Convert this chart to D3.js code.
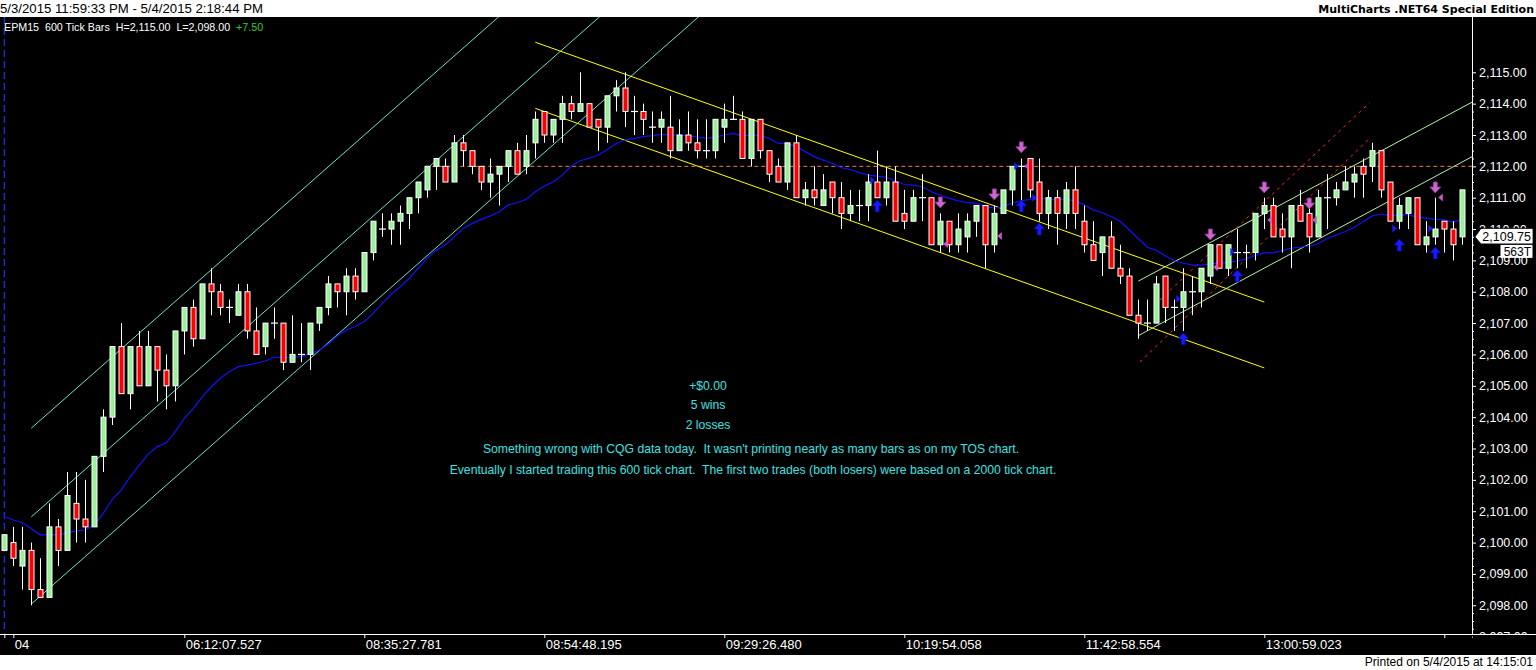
<!DOCTYPE html>
<html><head><meta charset="utf-8">
<script src="https://cdn.jsdelivr.net/npm/d3@7"></script>
<style>body{margin:0;background:#fff;overflow:hidden} svg{display:block} text{white-space:pre}</style>
</head><body><svg id="c" width="1536" height="670"></svg>
<script>
const opens=[2099.75,2100,2099.25,2099.75,2098.5,2098.25,2100.5,2099.75,2101.25,2100.75,2100.5,2102.75,2104,2106.25,2104.75,2106.25,2105,2106.25,2105.5,2105,2106.75,2107.5,2106.5,2108.25,2108,2107.5,2107.25,2108,2106.75,2106.25,2107,2107,2105.75,2106,2106,2107,2107.5,2108.25,2108,2108.5,2108,2109.25,2110,2110,2110.25,2110.5,2111,2111.25,2112,2112,2111.5,2112.75,2112.5,2112,2111.5,2111.75,2112,2112.5,2112,2112.75,2113.75,2113,2113.5,2114,2113.75,2114,2113.5,2113.25,2114.25,2114.5,2113.75,2113.75,2113.25,2113.25,2113.25,2112.5,2113,2112.75,2112.5,2112.5,2113.25,2113.5,2113.5,2112.25,2113.5,2112.5,2112,2111.5,2112.75,2111,2111.25,2110.75,2111.5,2111,2110.5,2110.75,2110.75,2111.5,2111,2111.5,2110.5,2110.25,2111,2111,2109.5,2110.25,2109.5,2109.75,2110.25,2110.75,2109.5,2110.5,2111.25,2112,2112.25,2111.5,2110.5,2111,2110.5,2111.25,2110.25,2109.5,2109.25,2109.75,2108.75,2108.5,2107.25,2107,2107,2108.5,2107.5,2107.5,2108,2108,2108.5,2109.5,2108.75,2109.25,2109.25,2109.25,2110.5,2110.75,2110,2109.75,2110.75,2110.5,2109.75,2111,2111,2111.25,2111.5,2112,2112,2112.5,2111.5,2110.25,2110.5,2111,2109.5,2109.75,2110.25,2110,2109.75];
const highs=[2100.25,2100.5,2100.5,2100,2099.5,2101.25,2100.75,2102.25,2102.25,2102,2102.75,2104.25,2106.25,2107,2106.25,2106.75,2106.75,2106.25,2106,2106.75,2107.5,2107.75,2108.25,2108.75,2108.25,2107.75,2108.25,2108.25,2107.5,2107,2107.5,2107,2107.25,2107,2107,2107.5,2108.5,2108.25,2108.75,2108.75,2109.25,2110.25,2110.5,2110.5,2110.75,2111,2111.5,2112,2112.25,2112.25,2113,2113,2112.5,2112,2112.25,2112,2112.5,2112.75,2113,2113.75,2113.75,2113.5,2114.25,2114.25,2115,2114,2113.5,2114.25,2114.75,2115,2114.25,2114,2113.75,2113.75,2114.25,2113.5,2113.75,2113.5,2113.5,2113.5,2114,2114.25,2113.75,2113.5,2113.5,2112.5,2112.25,2112.75,2113,2111.5,2112,2111.75,2111.5,2111.5,2111.25,2111.25,2111.75,2112.5,2112,2112,2111.25,2111.25,2111.75,2111,2110.5,2110.25,2110.5,2110.5,2110.75,2110.75,2110.75,2111.25,2112,2112.25,2112.25,2112.25,2111.25,2111.25,2111.5,2112,2110.75,2110.25,2109.75,2110.25,2109.5,2108.75,2107.75,2107.75,2108.5,2108.5,2107.75,2108.75,2108.5,2108.75,2109.5,2109.5,2109.5,2110,2109.5,2110.5,2111,2111,2110.5,2110.75,2111.25,2110.75,2111.25,2111.75,2111.5,2112,2112,2112.25,2112.75,2112.5,2111.5,2111,2111,2111,2110.25,2111,2110.25,2110.25,2111.25];
const lows=[2099.75,2099.25,2098.5,2098,2098.25,2098.25,2099.25,2099.75,2100,2100,2100.5,2102.25,2103.75,2104.75,2104.25,2105,2105,2104.5,2104.25,2104.5,2106,2106.25,2106.5,2107.25,2107.25,2107,2107.25,2106.5,2106,2106,2106.5,2105.5,2105.75,2105.75,2105.5,2106.75,2107.25,2107.5,2107.25,2107.75,2108,2109,2109.75,2109.5,2109.5,2110,2110.5,2111,2111.25,2111.5,2111.5,2112,2111.75,2111.25,2111,2110.75,2111.5,2111.75,2111.75,2112.25,2112.75,2112.75,2112.75,2113.5,2113.75,2113.25,2112.5,2112.75,2113.75,2113.25,2113,2113,2112.75,2112.75,2112.25,2112.5,2112.5,2112.25,2112.25,2112.25,2112.75,2113.5,2112.25,2112,2112.25,2111.5,2111.5,2111.25,2111,2110.75,2110.75,2110.75,2110.5,2110,2110.25,2110.25,2110.25,2111,2110.75,2110.25,2110,2110.25,2110.25,2109.5,2109.25,2109.25,2109.25,2109.25,2109.75,2108.75,2109.25,2110.5,2110.75,2110.75,2111,2110.25,2110,2109.5,2110,2110,2109.25,2109,2108.5,2108.75,2108.25,2107.25,2106.5,2106.75,2107,2107,2106.75,2106.75,2107.25,2107.5,2108.25,2108.75,2108.5,2108.75,2108.75,2109,2110,2109.75,2109.25,2108.75,2110.25,2109.25,2109.75,2110,2110.75,2111.25,2111,2111,2111.5,2111,2110.25,2110,2110,2109.5,2109.25,2109.5,2109.25,2109,2109.5];
const closes=[2100.25,2099.5,2099.75,2098.5,2098.25,2100.5,2099.75,2101.5,2100.75,2100.5,2102.75,2104,2106.25,2104.75,2106.25,2105,2106.25,2105.5,2105,2106.75,2107.5,2106.5,2108.25,2108,2107.5,2107.5,2108,2106.75,2106,2107,2107,2105.75,2106,2106,2107,2107.5,2108.25,2108,2108.5,2108,2109.25,2110.25,2110,2110.25,2110.5,2111,2111.5,2112,2112.25,2111.5,2112.75,2112.5,2112,2111.5,2111.75,2112,2112.5,2111.75,2112.5,2113.5,2113,2113.5,2114,2113.75,2114,2113.25,2113.25,2114.25,2114.5,2113.75,2113.75,2113.5,2113.25,2113.5,2112.5,2113,2112.75,2112.5,2112.5,2113.5,2113.5,2113.5,2112.25,2113.5,2112.5,2111.75,2111.5,2112.75,2111,2111.25,2111,2111.25,2111,2110.5,2110.75,2110.75,2111.5,2111,2111.5,2110.25,2110.25,2111,2111,2109.5,2110.25,2109.5,2110,2110.25,2110.75,2109.5,2110.5,2111.25,2112,2112,2111.25,2110.5,2111,2110.5,2111.25,2110.5,2109.5,2109,2109.75,2108.75,2108.5,2107.25,2107,2107,2108.25,2107.5,2107.5,2108,2108,2108.75,2109.5,2108.75,2109.5,2109.25,2109.25,2110.5,2110.75,2109.75,2109.75,2110.75,2110.25,2109.75,2111,2111,2111.25,2111.5,2111.75,2111.75,2112.5,2111.25,2110.25,2110.75,2111,2109.5,2109.75,2110,2110,2109.5,2111.25];
const movingAvg=[2100.83,2100.72,2100.63,2100.45,2100.24,2100.26,2100.24,2100.31,2100.37,2100.40,2100.56,2100.93,2101.38,2101.68,2102.10,2102.47,2102.82,2103.06,2103.18,2103.54,2103.96,2104.28,2104.65,2104.97,2105.24,2105.45,2105.61,2105.66,2105.72,2105.79,2105.91,2105.90,2105.91,2105.93,2106.01,2106.14,2106.33,2106.59,2106.78,2106.89,2107.05,2107.31,2107.63,2107.92,2108.16,2108.43,2108.75,2109.07,2109.33,2109.49,2109.76,2110.02,2110.18,2110.31,2110.42,2110.55,2110.77,2110.84,2110.95,2111.19,2111.37,2111.51,2111.72,2112.01,2112.18,2112.26,2112.36,2112.54,2112.73,2112.84,2112.89,2112.95,2112.98,2113.02,2113.00,2113.00,2112.98,2112.93,2112.89,2112.93,2113.00,2113.05,2112.97,2113.00,2112.98,2112.89,2112.73,2112.73,2112.63,2112.47,2112.31,2112.20,2112.10,2111.96,2111.90,2111.80,2111.72,2111.69,2111.65,2111.54,2111.42,2111.40,2111.35,2111.19,2111.08,2110.98,2110.90,2110.84,2110.82,2110.73,2110.66,2110.71,2110.84,2110.90,2110.95,2110.98,2110.95,2110.95,2110.95,2110.90,2110.77,2110.61,2110.52,2110.40,2110.24,2109.97,2109.70,2109.42,2109.33,2109.14,2108.99,2108.91,2108.85,2108.85,2108.89,2108.91,2108.93,2108.98,2109.04,2109.17,2109.24,2109.24,2109.31,2109.39,2109.42,2109.46,2109.54,2109.70,2109.81,2109.92,2110.06,2110.24,2110.42,2110.48,2110.42,2110.45,2110.45,2110.38,2110.35,2110.31,2110.29,2110.22,2110.31];

const priceTicks=d3.range(2097,2116,1);
const timeTickBars=[0,1,20,40,60,80,100,120,140,160];
const timeTickLabels=["","04","06:12:07.527","08:35:27.781","08:54:48.195","09:29:26.480","10:19:54.058","11:42:58.554","13:00:59.023",""];

// trend lines: [startBar, startPrice, endBar, endPrice]
const cyanLines=[[3,2103.65,56,2117.04],[3,2100.82,68,2117.24],[3,2098.04,79,2117.24]];
const yellowLines=[[59,2115.96,140,2107.67],[59,2113.85,140,2105.57]];
const greenLines=[[126,2108.34,163.1,2114.05],[126,2106.60,163.1,2112.31]];
const redDashLines=[[126.2,2105.76,151.5,2112.84],[128.4,2107.74,151.7,2114.03]];
const refLevel=2112.0, refStartBar=47;

// trade markers
const sellArrowBars=[104,110,113,134,140,145,159];
const sellArrowPrices=[2110.67,2110.93,2112.43,2109.65,2111.15,2110.64,2111.15];
const buyArrowBars=[97,113,115,131,137,155,159];
const buyArrowPrices=[2110.93,2110.93,2110.19,2106.69,2108.69,2109.68,2109.43];
const entryBars=[97,113,115,131,137,155,159];
const entryPrices=[2111.56,2112.0,2111.0,2107.77,2109.27,2110.02,2110.02];
const exitBars=[104,110,113,134,140,145,159];
const exitPrices=[2109.52,2109.78,2112.0,2108.78,2110.29,2110.29,2111.01];

const noteLines=["+$0.00","5 wins","2 losses","Something wrong with CQG data today.  It wasn't printing nearly as many bars as on my TOS chart.","Eventually I started trading this 600 tick chart.  The first two trades (both losers) were based on a 2000 tick chart."];
const noteCenters=[708,708,708,751,753];
const lastPrice=2109.75, lastVolLabel="563T";

const svg=d3.select("#c");
const F="'Liberation Sans', Arial, sans-serif";
const x=d3.scaleLinear().domain([0,162]).range([4.3,1462.3]);
const y=d3.scaleLinear().domain([2098,2115]).range([605.25,72.3]);
const plotTop=17, plotBottom=634, axisX=1472;

svg.append("rect").attr("x",0).attr("y",0).attr("width",1536).attr("height",670).attr("fill","#fff");
svg.append("rect").attr("x",0).attr("y",plotTop).attr("width",1536).attr("height",655-plotTop).attr("fill","#000");
svg.append("text").attr("x",0).attr("y",13).attr("font-family",F).attr("font-size",13.2).attr("fill","#000").text("5/3/2015 11:59:33 PM - 5/4/2015 2:18:44 PM");
svg.append("text").attr("x",1534).attr("y",13).attr("text-anchor","end").attr("font-family","'DejaVu Sans', sans-serif").attr("font-weight","bold").attr("font-size",11).attr("fill","#000").text("MultiCharts .NET64 Special Edition");
svg.append("text").attr("x",1533).attr("y",666).attr("text-anchor","end").attr("font-family",F).attr("font-size",12).attr("fill","#000").text("Printed on 5/4/2015 at 14:15:01");

svg.append("defs").append("clipPath").attr("id","pc").append("rect").attr("x",0).attr("y",plotTop).attr("width",axisX).attr("height",plotBottom-plotTop);
const g=svg.append("g").attr("clip-path","url(#pc)");

// session break
g.append("line").attr("x1",x(0)).attr("x2",x(0)).attr("y1",plotTop).attr("y2",plotBottom).attr("stroke","#2030ff").attr("stroke-width",1.2).attr("stroke-dasharray","7,4");

// reference level
g.append("line").attr("x1",x(refStartBar)-2).attr("x2",axisX).attr("y1",y(refLevel)).attr("y2",y(refLevel)).attr("stroke","#f07a3a").attr("stroke-dasharray","4,3");

function drawLines(arr,color,dash){
  arr.forEach(l=>{
    g.append("line").attr("x1",x(l[0])).attr("y1",y(l[1])).attr("x2",x(l[2])).attr("y2",y(l[3]))
     .attr("stroke",color).attr("stroke-width",1).attr("stroke-dasharray",dash||null);
  });
}
drawLines(cyanLines,"#6ee0c6");
drawLines(yellowLines,"#ffff00");
drawLines(greenLines,"#b4f0a4");
drawLines(redDashLines,"#ff2020","3,4");

// moving average
const maLine=d3.line().x((d,i)=>x(i)).y(d=>y(d));
g.append("path").attr("d",maLine(movingAvg)).attr("fill","none").attr("stroke","#1010ff").attr("stroke-width",1.2);

// candles
const idx=d3.range(opens.length);
const cg=g.append("g");
idx.forEach(i=>{
  const cx=Math.round(x(i))+0.5;
  cg.append("line").attr("x1",cx).attr("x2",cx).attr("y1",y(highs[i])).attr("y2",y(lows[i])).attr("stroke","#fff").attr("stroke-width",1);
  if(opens[i]===closes[i]){
    cg.append("line").attr("x1",cx-3.5).attr("x2",cx+3.5).attr("y1",y(opens[i])).attr("y2",y(opens[i])).attr("stroke","#fff").attr("stroke-width",1.2);
  } else {
    const top=y(Math.max(opens[i],closes[i])), bot=y(Math.min(opens[i],closes[i]));
    cg.append("rect").attr("x",cx-2.5).attr("y",top).attr("width",5).attr("height",Math.max(1,bot-top))
      .attr("fill",closes[i]>opens[i]?"#98f098":"#ff0000").attr("stroke","#fff").attr("stroke-width",1);
  }
});

// trade markers
const mg=g.append("g");
sellArrowBars.forEach((b,k)=>{
  const cx=x(b), ty=y(sellArrowPrices[k]);
  mg.append("path").attr("d",`M${cx},${ty} L${cx-5.5},${ty-6} L${cx-2},${ty-6} L${cx-2},${ty-11} L${cx+2},${ty-11} L${cx+2},${ty-6} L${cx+5.5},${ty-6} Z`)
    .attr("fill","#cc66cc").attr("stroke","#8a3a9a").attr("stroke-width",0.8);
});
buyArrowBars.forEach((b,k)=>{
  const cx=x(b), ty=y(buyArrowPrices[k]);
  mg.append("path").attr("d",`M${cx},${ty} L${cx-5.5},${ty+6} L${cx-2},${ty+6} L${cx-2},${ty+12} L${cx+2},${ty+12} L${cx+2},${ty+6} L${cx+5.5},${ty+6} Z`)
    .attr("fill","#1a1aff").attr("stroke","#0000aa").attr("stroke-width",0.6);
});
entryBars.forEach((b,k)=>{
  const cx=x(b), ty=y(entryPrices[k]);
  mg.append("path").attr("d",`M${cx-7},${ty-4} L${cx-2.5},${ty} L${cx-7},${ty+4} Z`).attr("fill","#1a1aff");
});
exitBars.forEach((b,k)=>{
  const cx=x(b), ty=y(exitPrices[k]);
  mg.append("path").attr("d",`M${cx+7.5},${ty-4} L${cx+3},${ty} L${cx+7.5},${ty+4} Z`).attr("fill","#cc55cc");
});

// notes
noteLines.forEach((t,k)=>{
  svg.append("text").attr("x",noteCenters[k]).attr("y",[390,409,429,453,474][k]).attr("text-anchor","middle")
    .attr("font-family",F).attr("font-size",12.2).attr("fill","#3ee0e0").text(t);
});

// info line
const info=svg.append("text").attr("x",4).attr("y",31).attr("font-family",F).attr("font-size",10.7).attr("fill","#fff");
info.append("tspan").text("EPM15  600 Tick Bars  H=2,115.00  L=2,098.00  ");
info.append("tspan").attr("fill","#33cc33").text("+7.50");

// price axis
const ya=svg.append("g").attr("transform",`translate(${axisX},0)`)
  .call(d3.axisRight(y).tickValues(priceTicks).tickFormat(d3.format(",.2f")).tickSize(4).tickPadding(3));
ya.select(".domain").remove();
ya.selectAll("line").attr("stroke","#fff");
ya.selectAll("text").attr("fill","#fff").attr("font-family",F).attr("font-size",12.5);
const minor=d3.range(2097,2115.01,0.25).filter(v=>v%1!==0);
const ym=svg.append("g").attr("transform",`translate(${axisX},0)`).call(d3.axisRight(y).tickValues(minor).tickFormat("").tickSize(2));
ym.select(".domain").remove();
ym.selectAll("line").attr("stroke","#fff");
ya.selectAll(".tick").filter(d=>y(d)>plotBottom+6).remove();
svg.append("rect").attr("x",axisX+1).attr("y",plotBottom+1).attr("width",64).attr("height",20).attr("fill","#000");
svg.append("line").attr("x1",axisX+0.5).attr("x2",axisX+0.5).attr("y1",plotTop).attr("y2",plotBottom).attr("stroke","#fff");

// time axis
svg.append("line").attr("x1",0).attr("x2",1536).attr("y1",plotBottom+0.5).attr("y2",plotBottom+0.5).attr("stroke","#fff");
const xa=svg.append("g").attr("transform",`translate(0,${plotBottom})`)
  .call(d3.axisBottom(x).tickValues(timeTickBars).tickFormat((d,i)=>timeTickLabels[i]).tickSize(4).tickPadding(2));
xa.select(".domain").remove();
xa.selectAll("line").attr("stroke","#fff");
xa.selectAll("text").attr("fill","#fff").attr("text-anchor","start").attr("dx",1)
  .attr("font-family","'Liberation Sans Narrow', 'Liberation Sans', Arial, sans-serif").attr("font-size",13);

// last price marker (drawn over the axis labels as in the original)
const ly=y(lastPrice);
svg.append("path").attr("d",`M${axisX+3},${ly} L${axisX+9},${ly-8.5} L${1533},${ly-8.5} L${1533},${ly+7} L${axisX+9},${ly+7} Z`).attr("fill","#fff").attr("stroke","#000").attr("stroke-width",0.8);
svg.append("text").attr("x",1531).attr("y",ly+4.5).attr("text-anchor","end").attr("font-family",F).attr("font-size",12.5).attr("fill","#000").text(d3.format(",.2f")(lastPrice));
svg.append("rect").attr("x",1500.5).attr("y",ly+8).attr("width",32).attr("height",13).attr("fill","#fff");
svg.append("text").attr("x",1531).attr("y",ly+19).attr("text-anchor","end").attr("font-family",F).attr("font-size",12).attr("fill","#000").text(lastVolLabel);
</script></body></html>
